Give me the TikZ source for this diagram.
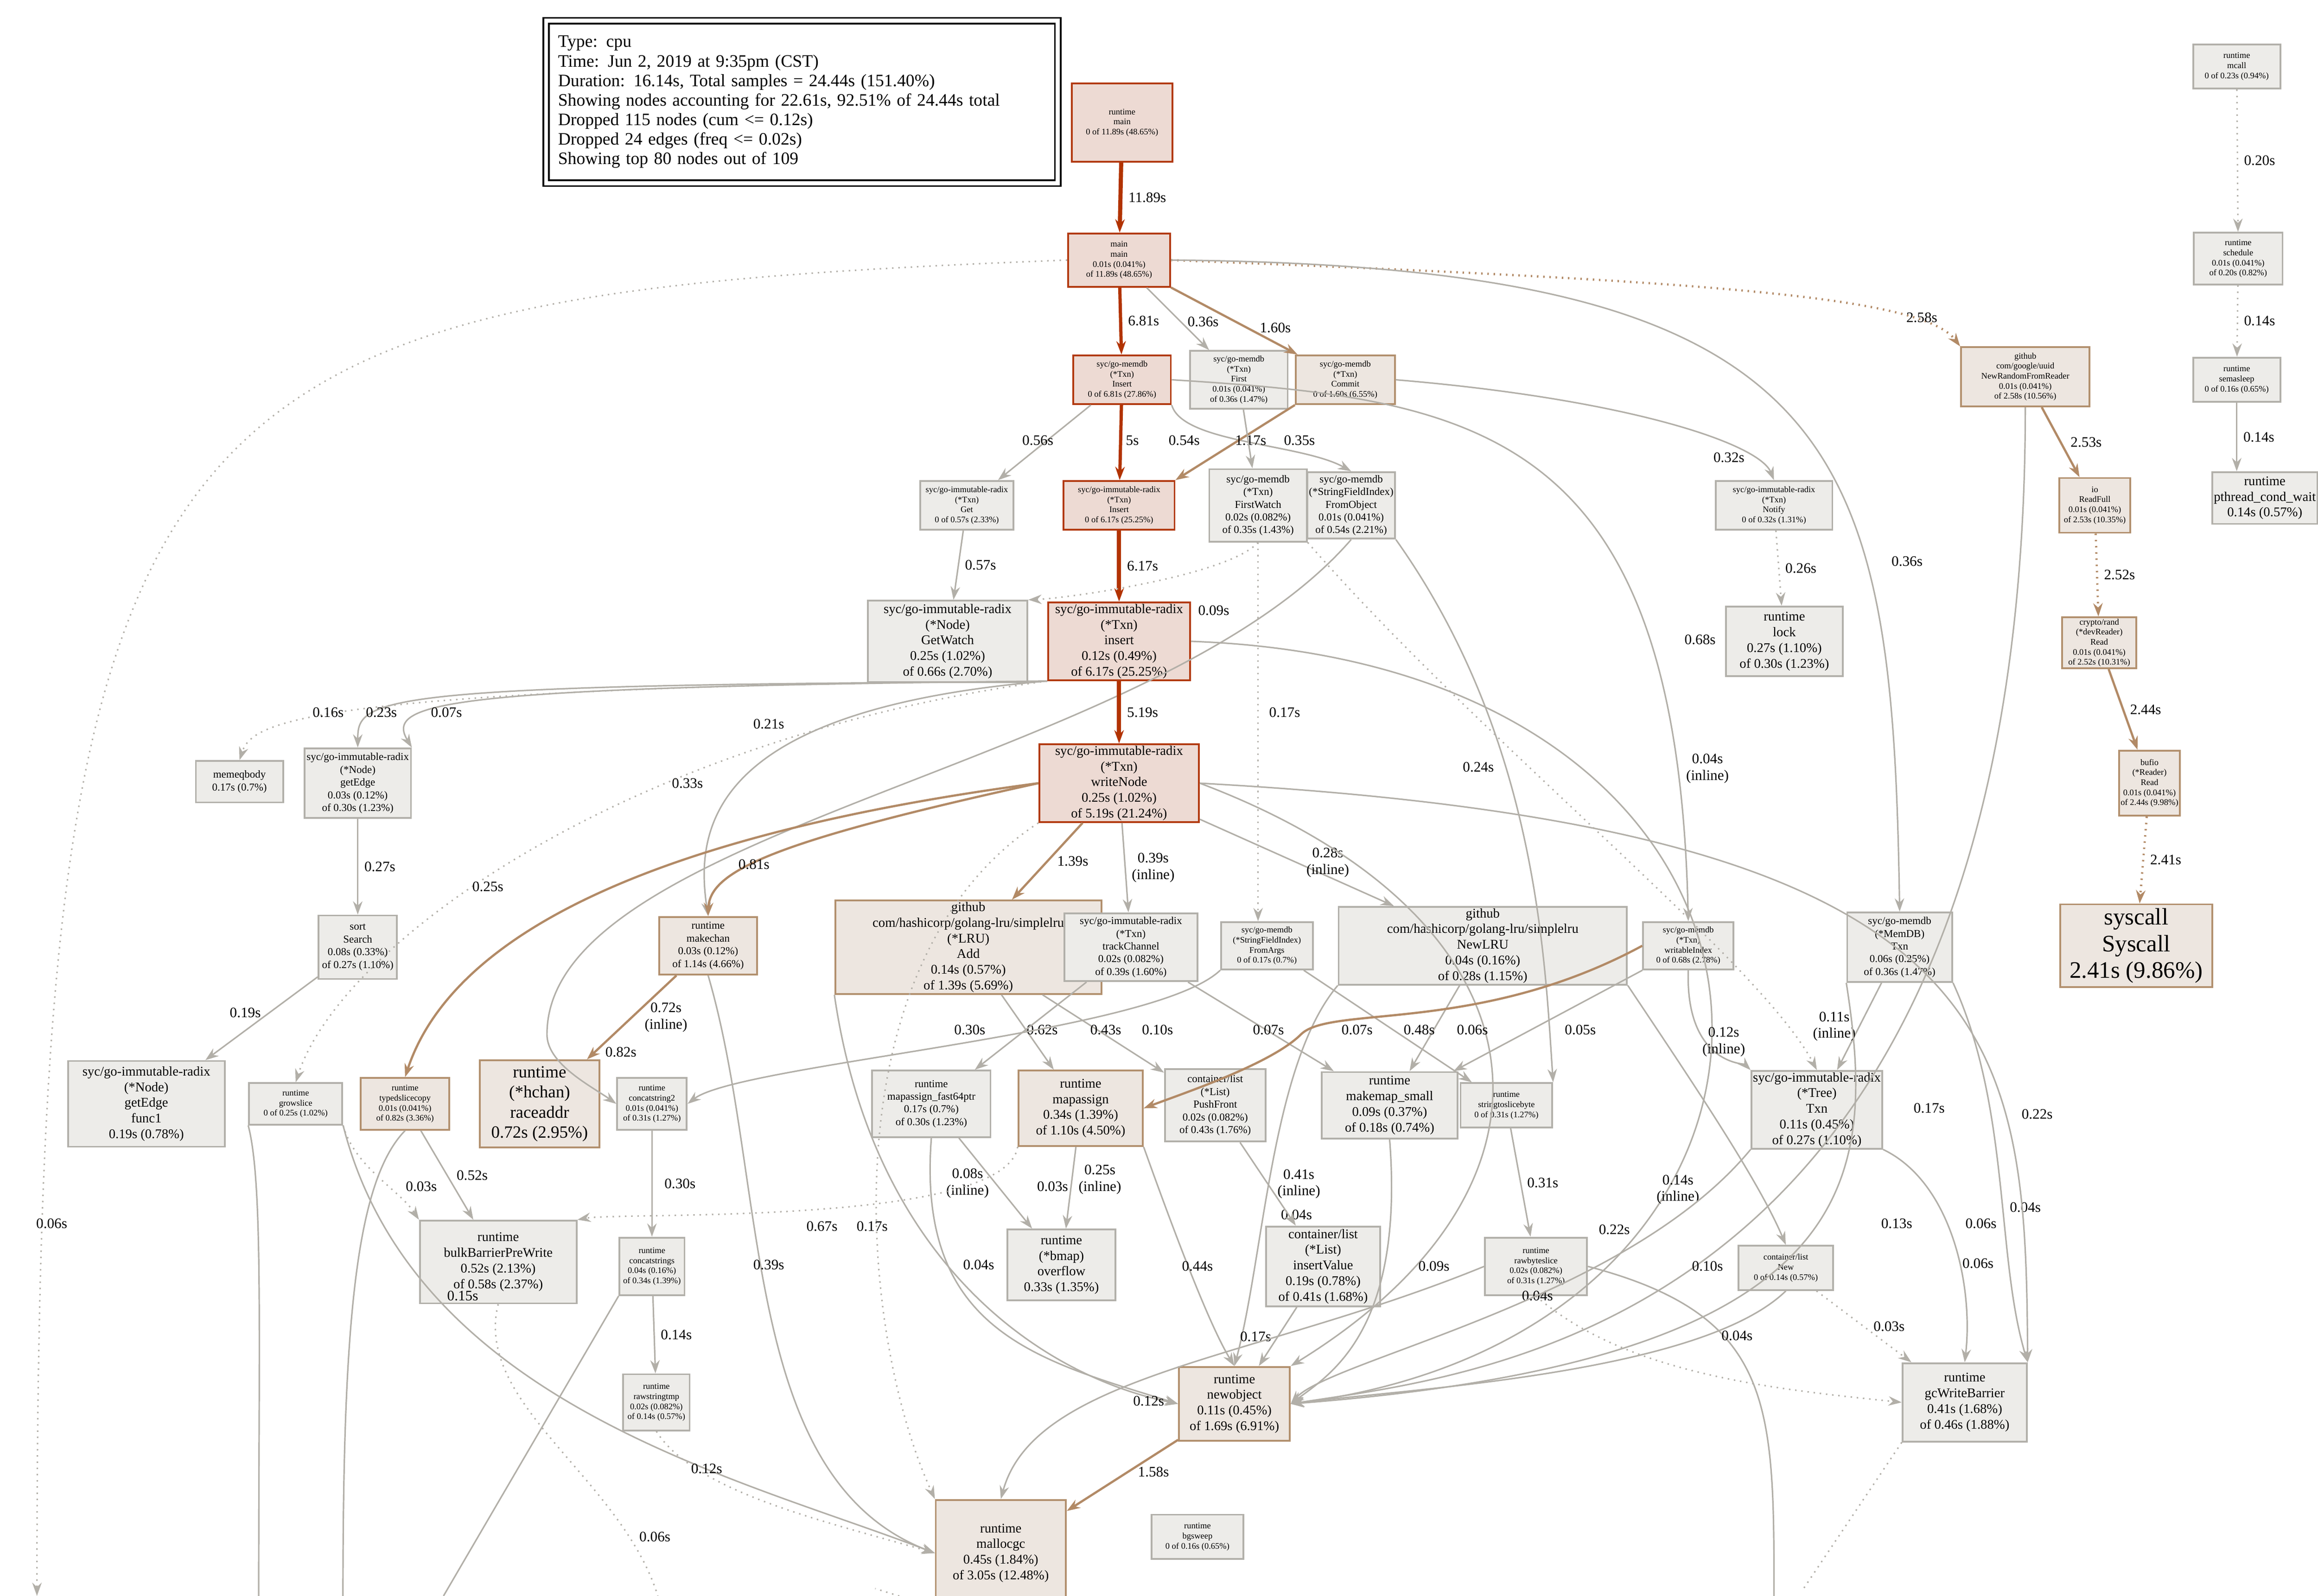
\documentclass[tikz,border=0pt]{standalone}
\usepackage{fontspec}
\setmainfont{Liberation Serif}
\usetikzlibrary{arrows.meta}
\definecolor{ng}{HTML}{EDECE9}\definecolor{bg}{HTML}{B2B0AA}
\definecolor{nb}{HTML}{EDE6E0}\definecolor{bb}{HTML}{B2906E}
\definecolor{nr}{HTML}{EDDAD3}\definecolor{br}{HTML}{B23A10}
\definecolor{eg}{HTML}{B2AFA8}\definecolor{ebr}{HTML}{B28A66}\definecolor{ered}{HTML}{B23300}
\begin{document}
\begin{tikzpicture}[x=0.5pt,y=-0.5pt,
 nd/.style={draw, rectangle, align=center, inner sep=0.5pt, line width=0.6pt},
 g/.style={nd, fill=ng, draw=bg}, b/.style={nd, fill=nb, draw=bb}, r/.style={nd, fill=nr, draw=br},
 sz/.style 2 args={minimum width=#1*0.5pt, minimum height=#2*0.5pt},
 f1/.style={font=\fontsize{2.9}{3.4}\selectfont},
 f2/.style={font=\fontsize{3.6}{4.3}\selectfont},
 f3/.style={font=\fontsize{4.5}{5.3}\selectfont},
 f4/.style={font=\fontsize{5.8}{6.8}\selectfont},
 f5/.style={font=\fontsize{8}{9}\selectfont},
 e/.style={-{Stealth[length=4.5pt,width=3.2pt]}, line width=0.5pt, draw=eg},
 eb/.style={e, draw=ebr, line width=0.75pt},
 er/.style={e, draw=ered, line width=1.4pt},
 d/.style={dash pattern=on 0.5pt off 1.6pt},
 lbl/.style={font=\fontsize{4.9}{5.6}\selectfont, align=center, inner sep=0}]
\useasboundingbox (0,0) rectangle (1568,1080);
\clip (0,0) rectangle (1568,1080);
% legend
\node[draw, double, double distance=1.3pt, line width=0.6pt, sz={345}{110}, align=left, inner sep=4pt, font=\fontsize{5.9}{6.6}\selectfont, text width=165pt] (legend) at (542.5,69) {Type: cpu\\Time: Jun 2, 2019 at 9:35pm (CST)\\Duration: 16.14s, Total samples = 24.44s (151.40\%)\\Showing nodes accounting for 22.61s, 92.51\% of 24.44s total\\Dropped 115 nodes (cum <= 0.12s)\\Dropped 24 edges (freq <= 0.02s)\\Showing top 80 nodes out of 109};
% nodes
\node[r,f1,sz={68}{53}] (rtmain) at (759,83) {runtime\\main\\0 of 11.89s (48.65\%)};
\node[r,f1,sz={69}{36}] (mainmain) at (757,176) {main\\main\\0.01s (0.041\%)\\of 11.89s (48.65\%)};
\node[r,f1,sz={66}{33}] (Insert) at (759,257) {syc/go-memdb\\(*Txn)\\Insert\\0 of 6.81s (27.86\%)};
\node[g,f1,sz={66}{39}] (First) at (838,257) {syc/go-memdb\\(*Txn)\\First\\0.01s (0.041\%)\\of 0.36s (1.47\%)};
\node[b,f1,sz={67}{33}] (Commit) at (910,257) {syc/go-memdb\\(*Txn)\\Commit\\0 of 1.60s (6.55\%)};
\node[b,f1,sz={87}{40}] (NewRand) at (1370,255) {github\\com/google/uuid\\NewRandomFromReader\\0.01s (0.041\%)\\of 2.58s (10.56\%)};
\node[g,f1,sz={59}{30}] (mcall) at (1513,45) {runtime\\mcall\\0 of 0.23s (0.94\%)};
\node[g,f1,sz={60}{35}] (schedule) at (1514,175) {runtime\\schedule\\0.01s (0.041\%)\\of 0.20s (0.82\%)};
\node[g,f1,sz={59}{30}] (semasleep) at (1513,257) {runtime\\semasleep\\0 of 0.16s (0.65\%)};
\node[g,f3,sz={65}{35}] (pthread) at (1532,337) {runtime\\pthread\_cond\_wait\\0.14s (0.57\%)};
\node[g,f1,sz={63}{33}] (GetTxn) at (654,342) {syc/go-immutable-radix\\(*Txn)\\Get\\0 of 0.57s (2.33\%)};
\node[r,f1,sz={75}{33}] (InsR) at (757,342) {syc/go-immutable-radix\\(*Txn)\\Insert\\0 of 6.17s (25.25\%)};
\node[g,f2,sz={66}{49}] (FirstWatch) at (851,342) {syc/go-memdb\\(*Txn)\\FirstWatch\\0.02s (0.082\%)\\of 0.35s (1.43\%)};
\node[g,f2,sz={59}{45}] (FromObj) at (914,342) {syc/go-memdb\\(*StringFieldIndex)\\FromObject\\0.01s (0.041\%)\\of 0.54s (2.21\%)};
\node[g,f1,sz={79}{33}] (Notify) at (1200,342) {syc/go-immutable-radix\\(*Txn)\\Notify\\0 of 0.32s (1.31\%)};
\node[b,f1,sz={48}{37}] (ReadFull) at (1417,342) {io\\ReadFull\\0.01s (0.041\%)\\of 2.53s (10.35\%)};
\node[g,f3,sz={108}{55}] (GetWatch) at (641,434) {syc/go-immutable-radix\\(*Node)\\GetWatch\\0.25s (1.02\%)\\of 0.66s (2.70\%)};
\node[r,f3,sz={96}{52}] (insert) at (757,434) {syc/go-immutable-radix\\(*Txn)\\insert\\0.12s (0.49\%)\\of 6.17s (25.25\%)};
\node[g,f3,sz={79}{47}] (lock) at (1207,434) {runtime\\lock\\0.27s (1.10\%)\\of 0.30s (1.23\%)};
\node[b,f1,sz={50}{34}] (devRead) at (1420,435) {crypto/rand\\(*devReader)\\Read\\0.01s (0.041\%)\\of 2.52s (10.31\%)};
\node[g,f2,sz={59}{28}] (memeq) at (162,529) {memeqbody\\0.17s (0.7\%)};
\node[g,f2,sz={72}{47}] (getEdge) at (242,530) {syc/go-immutable-radix\\(*Node)\\getEdge\\0.03s (0.12\%)\\of 0.30s (1.23\%)};
\node[r,f3,sz={108}{52}] (writeNode) at (757,530) {syc/go-immutable-radix\\(*Txn)\\writeNode\\0.25s (1.02\%)\\of 5.19s (21.24\%)};
\node[b,f1,sz={39}{44}] (bufio) at (1454,530) {bufio\\(*Reader)\\Read\\0.01s (0.041\%)\\of 2.44s (9.98\%)};
\node[g,f2,sz={53}{43}] (sort) at (242,641) {sort\\Search\\0.08s (0.33\%)\\of 0.27s (1.10\%)};
\node[b,f2,sz={66}{39}] (makechan) at (479,640) {runtime\\makechan\\0.03s (0.12\%)\\of 1.14s (4.66\%)};
\node[b,f3,sz={180}{59}] (Add) at (655,641) {github\\com/hashicorp/golang-lru/simplelru\\(*LRU)\\Add\\0.14s (0.57\%)\\of 1.39s (5.69\%)};
\node[g,f2,sz={90}{46}] (track) at (765,641) {syc/go-immutable-radix\\(*Txn)\\trackChannel\\0.02s (0.082\%)\\of 0.39s (1.60\%)};
\node[g,f1,sz={62}{32}] (FromArgs) at (857,640) {syc/go-memdb\\(*StringFieldIndex)\\FromArgs\\0 of 0.17s (0.7\%)};
\node[g,f3,sz={195}{46}] (NewLRU) at (1003,640) {github\\com/hashicorp/golang-lru/simplelru\\NewLRU\\0.04s (0.16\%)\\of 0.28s (1.15\%)};
\node[g,f1,sz={61}{32}] (writIdx) at (1142,640) {syc/go-memdb\\(*Txn)\\writableIndex\\0 of 0.68s (2.78\%)};
\node[g,f2,sz={71}{47}] (MemTxn) at (1285,641) {syc/go-memdb\\(*MemDB)\\Txn\\0.06s (0.25\%)\\of 0.36s (1.47\%)};
\node[b,f5,sz={103}{56}] (syscall) at (1445,640) {syscall\\Syscall\\2.41s (9.86\%)};
\node[g,f3,sz={106}{58}] (func1) at (99,747) {syc/go-immutable-radix\\(*Node)\\getEdge\\func1\\0.19s (0.78\%)};
\node[g,f1,sz={63}{28}] (grow) at (200,747) {runtime\\growslice\\0 of 0.25s (1.02\%)};
\node[b,f1,sz={60}{35}] (typed) at (274,747) {runtime\\typedslicecopy\\0.01s (0.041\%)\\of 0.82s (3.36\%)};
\node[b,f4,sz={81}{59}] (race) at (365,747) {runtime\\(*hchan)\\raceaddr\\0.72s (2.95\%)};
\node[g,f1,sz={47}{35}] (cat2) at (441,747) {runtime\\concatstring2\\0.01s (0.041\%)\\of 0.31s (1.27\%)};
\node[g,f2,sz={80}{45}] (mapf64) at (630,747) {runtime\\mapassign\_fast64ptr\\0.17s (0.7\%)\\of 0.30s (1.23\%)};
\node[b,f3,sz={84}{51}] (mapassign) at (731,750) {runtime\\mapassign\\0.34s (1.39\%)\\of 1.10s (4.50\%)};
\node[g,f2,sz={68}{49}] (PushFront) at (822,748) {container/list\\(*List)\\PushFront\\0.02s (0.082\%)\\of 0.43s (1.76\%)};
\node[g,f3,sz={92}{45}] (makemap) at (940,748) {runtime\\makemap\_small\\0.09s (0.37\%)\\of 0.18s (0.74\%)};
\node[g,f1,sz={62}{30}] (s2b) at (1019,748) {runtime\\stringtoslicebyte\\0 of 0.31s (1.27\%)};
\node[g,f3,sz={84}{51}] (radTxn) at (1229,751) {syc/go-immutable-radix\\(*Tree)\\Txn\\0.11s (0.45\%)\\of 0.27s (1.10\%)};
\node[g,f3,sz={106}{56}] (bulk) at (337,854) {runtime\\bulkBarrierPreWrite\\0.52s (2.13\%)\\of 0.58s (2.37\%)};
\node[g,f1,sz={44}{39}] (cats) at (441,857) {runtime\\concatstrings\\0.04s (0.16\%)\\of 0.34s (1.39\%)};
\node[g,f3,sz={73}{48}] (bmap) at (718,856) {runtime\\(*bmap)\\overflow\\0.33s (1.35\%)};
\node[g,f3,sz={77}{54}] (insVal) at (895,857) {container/list\\(*List)\\insertValue\\0.19s (0.78\%)\\of 0.41s (1.68\%)};
\node[g,f1,sz={69}{39}] (rawb) at (1039,857) {runtime\\rawbyteslice\\0.02s (0.082\%)\\of 0.31s (1.27\%)};
\node[g,f1,sz={64}{30}] (listNew) at (1208,858) {container/list\\New\\0 of 0.14s (0.57\%)};
\node[g,f1,sz={45}{38}] (rawst) at (444,949) {runtime\\rawstringtmp\\0.02s (0.082\%)\\of 0.14s (0.57\%)};
\node[b,f3,sz={75}{50}] (newobj) at (835,950) {runtime\\newobject\\0.11s (0.45\%)\\of 1.69s (6.91\%)};
\node[g,f3,sz={84}{53}] (gcwb) at (1329,949) {runtime\\gcWriteBarrier\\0.41s (1.68\%)\\of 0.46s (1.88\%)};
\node[b,f3,sz={88}{72}] (malloc) at (677,1051) {runtime\\mallocgc\\0.45s (1.84\%)\\of 3.05s (12.48\%)};
\node[g,f1,sz={62}{30}] (bgsweep) at (810,1040) {runtime\\bgsweep\\0 of 0.16s (0.65\%)};
% free ends
\coordinate (c1) at (25,1080); \coordinate (c2) at (175,1080); \coordinate (c3) at (232,1080);
\coordinate (c4) at (300,1080); \coordinate (c5) at (1200,1080); \coordinate (c6) at (445,1080);
\coordinate (c7) at (1220,1075); \coordinate (c8) at (592,1075);
% edges top
\draw[er] (rtmain) -- (mainmain) node[lbl,pos=0.5,right=2pt] {11.89s};
\draw[er,line width=1.1pt] (mainmain) -- (Insert) node[lbl,pos=0.5,right=2pt] {6.81s};
\draw[e] (mainmain) -- (First) node[lbl,pos=0.55,right=2pt] {0.36s};
\draw[eb] (mainmain) -- (Commit) node[lbl,pos=0.6,right=4pt] {1.60s};
\draw[eb,d] (mainmain.east) .. controls (1150,190) and (1300,200) .. (NewRand.north west);
\node[lbl] at (1300,215) {2.58s};
\draw[e] (mainmain.east) .. controls (1250,180) and (1280,300) .. (MemTxn.north);
\node[lbl] at (1290,380) {0.36s};
\draw[e,d] (mainmain.west) .. controls (100,200) and (25,250) .. (c1);
\node[lbl] at (35,828) {0.06s};
\draw[e,d] (mcall) -- (schedule) node[lbl,pos=0.5,right=2pt] {0.20s};
\draw[e,d] (schedule) -- (semasleep) node[lbl,pos=0.5,right=2pt] {0.14s};
\draw[e] (semasleep) -- (semasleep|-pthread.north) node[lbl,pos=0.5,right=2pt] {0.14s};
\draw[e] (Insert) -- (GetTxn);
\node[lbl] at (702,298) {0.56s};
\draw[er,line width=1.1pt] (Insert) -- (InsR);
\node[lbl] at (766,298) {5s};
\draw[e] (Insert.south east) .. controls (800,300) and (880,300) .. (FromObj.north);
\node[lbl] at (801,298) {0.54s};
\draw[e] (Insert.east) .. controls (1000,270) and (1135,290) .. (writIdx.north);
\node[lbl] at (1150,433) {0.68s};
\draw[eb] (Commit.south west) -- (InsR.north east);
\node[lbl] at (846,298) {1.17s};
\draw[e] (First) -- (FirstWatch);
\node[lbl] at (879,298) {0.35s};
\draw[e] (Commit.east) .. controls (1100,270) and (1190,300) .. (Notify.north) node[lbl,pos=0.8,left=2pt] {0.32s};
\draw[eb] (NewRand) -- (ReadFull) node[lbl,pos=0.5,right=3pt] {2.53s};
\draw[e] (NewRand.south) .. controls (1370,900) and (1000,930) .. (newobj.east);
\node[lbl] at (1370,817) {0.04s};
\draw[e,d] (Notify) -- (lock) node[lbl,pos=0.5,right=2pt] {0.26s};
\draw[eb,d] (ReadFull) -- (devRead) node[lbl,pos=0.5,right=2pt] {2.52s};
\draw[eb] (devRead) -- (bufio) node[lbl,pos=0.5,right=2pt] {2.44s};
\draw[eb,d] (bufio) -- (syscall) node[lbl,pos=0.5,right=2pt] {2.41s};
\draw[e] (GetTxn) -- (GetWatch) node[lbl,pos=0.5,right=2pt] {0.57s};
\draw[er] (InsR) -- (insert) node[lbl,pos=0.5,right=2pt] {6.17s};
\draw[e,d] (FirstWatch.south) .. controls (830,390) and (720,405) .. (GetWatch.north east);
\node[lbl] at (821,413) {0.09s};
\draw[e,d] (FirstWatch) -- (FirstWatch|-FromArgs.north);
\node[lbl] at (869,482) {0.17s};
\draw[e] (FromObj.south) .. controls (780,520) and (370,560) .. (370,700) .. controls (370,720) and (400,735) .. (cat2.west);
\node[lbl] at (520,490) {0.21s};
\draw[e] (FromObj.south east) .. controls (1040,500) and (1045,650) .. (s2b.north east);
\node[lbl] at (1000,519) {0.24s};
\draw[e,d] (FirstWatch.south east) .. controls (1000,500) and (1190,650) .. (radTxn.north);
\node[lbl] at (1155,520) {0.04s\\(inline)};
\draw[e,d] (GetWatch.south west) .. controls (200,470) and (170,490) .. (memeq.north);
\node[lbl] at (222,482) {0.16s};
\draw[e] (GetWatch.south west) .. controls (250,465) and (242,475) .. (getEdge.north);
\node[lbl] at (258,482) {0.23s};
\draw[e] (insert.south west) .. controls (300,465) and (260,475) .. (getEdge.north east);
\node[lbl] at (302,482) {0.07s};
\draw[er] (insert) -- (writeNode) node[lbl,pos=0.5,right=2pt] {5.19s};
\draw[e,d] (insert.south west) .. controls (420,500) and (230,640) .. (grow.north);
\node[lbl] at (330,600) {0.25s};
\draw[e] (insert.south west) .. controls (480,480) and (470,560) .. (makechan.north);
\node[lbl] at (465,530) {0.33s};
\draw[e] (insert.east) .. controls (1260,450) and (1265,900) .. (newobj.east);
\node[lbl] at (1305,750) {0.17s};
\draw[e] (getEdge) -- (sort) node[lbl,pos=0.5,right=2pt] {0.27s};
\draw[e] (sort) -- (func1) node[lbl,pos=0.5,above left=0pt] {0.19s};
% writeNode out
\draw[eb] (writeNode.west) .. controls (520,570) and (480,590) .. (makechan.north);
\node[lbl] at (510,585) {0.81s};
\draw[eb] (writeNode.west) .. controls (400,570) and (300,650) .. (typed.north);
\node[lbl] at (420,712) {0.82s};
\draw[eb] (writeNode) -- (Add) node[lbl,pos=0.5,right=3pt] {1.39s};
\draw[e] (writeNode) -- (track) node[lbl,pos=0.5,right=2pt] {0.39s\\(inline)};
\draw[e] (writeNode) -- (NewLRU) node[lbl,pos=0.5,right=3pt] {0.28s\\(inline)};
\draw[e,d] (writeNode.south west) .. controls (560,650) and (580,900) .. (malloc.north west);
\node[lbl] at (556,830) {0.67s};
\draw[e] (writeNode.east) .. controls (1050,620) and (1075,800) .. (newobj.north east);
\node[lbl] at (1092,832) {0.22s};
\draw[e] (writeNode.east) .. controls (1360,560) and (1370,700) .. (gcwb.north east);
\node[lbl] at (1378,754) {0.22s};
\draw[eb] (makechan) -- (race) node[lbl,pos=0.5,right=4pt] {0.72s\\(inline)};
\draw[e] (makechan.south) .. controls (520,800) and (500,1000) .. (malloc.west);
\node[lbl] at (520,856) {0.39s};
\draw[e] (Add) -- (mapassign);
\node[lbl] at (705,697) {0.62s};
\draw[e] (Add) -- (PushFront);
\node[lbl] at (748,697) {0.43s};
\draw[e] (Add.south west) .. controls (590,850) and (700,930) .. (newobj.west);
\node[lbl] at (590,830) {0.17s};
\draw[e] (track) -- (mapf64);
\node[lbl] at (656,697) {0.30s};
\draw[e] (track) -- (makemap);
\node[lbl] at (858,697) {0.07s};
\draw[e] (FromArgs.south west) .. controls (780,700) and (500,720) .. (cat2.east);
\node[lbl] at (783,697) {0.10s};
\draw[e] (FromArgs) -- (s2b);
\node[lbl] at (918,697) {0.07s};
\draw[e] (NewLRU) -- (makemap);
\node[lbl] at (996,697) {0.06s};
\draw[e] (NewLRU.south west) .. controls (860,720) and (855,850) .. (newobj.north);
\node[lbl] at (877,822) {0.04s};
\draw[e] (NewLRU.south east) .. controls (1150,740) and (1190,800) .. (listNew.north);
\node[lbl] at (1135,805) {0.14s\\(inline)};
\draw[eb] (writIdx.west) .. controls (1000,700) and (900,680) .. (880,700) .. controls (860,720) and (800,740) .. (mapassign.east);
\node[lbl] at (960,697) {0.48s};
\draw[e] (writIdx) -- (makemap);
\node[lbl] at (1069,697) {0.05s};
\draw[e] (writIdx.south) .. controls (1140,720) and (1180,720) .. (radTxn.north west);
\node[lbl] at (1166,705) {0.12s\\(inline)};
\draw[e] (MemTxn) -- (radTxn) node[lbl,pos=0.5,left=1pt] {0.11s\\(inline)};
\draw[e] (MemTxn.south west) .. controls (1270,800) and (1260,920) .. (newobj.east);
\node[lbl] at (1283,828) {0.13s};
\draw[e] (MemTxn.south east) .. controls (1360,750) and (1350,850) .. (gcwb.north east);
\node[lbl] at (1340,828) {0.06s};
% lower
\draw[e] (grow.south east) .. controls (280,950) and (500,1000) .. (malloc.west);
\node[lbl] at (313,877) {0.15s};
\draw[e,d] (grow.south east) .. controls (240,790) and (270,805) .. (bulk.north west);
\node[lbl] at (285,803) {0.03s};
\draw[e] (typed) -- (bulk) node[lbl,pos=0.5,right=3pt] {0.52s};
\draw[e,-] (grow.south west) .. controls (178,800) and (175,900) .. (c2);
\draw[e,-] (typed.south) .. controls (240,800) and (232,900) .. (c3);
\draw[e] (cat2) -- (cats) node[lbl,pos=0.5,right=4pt] {0.30s};
\draw[e] (cats) -- (rawst) node[lbl,pos=0.5,right=2pt] {0.14s};
\draw[e,-] (cats.south west) -- (c4);
\draw[e,d] (rawst.south) .. controls (470,1010) and (560,1030) .. (malloc.west);
\node[lbl] at (478,994) {0.12s};
\draw[e,-,d] (bulk.south) .. controls (320,950) and (420,1000) .. (c6);
\node[lbl] at (443,1040) {0.06s};
\draw[e] (mapf64) -- (bmap) node[lbl,pos=0.5,left=2pt] {0.08s\\(inline)};
\draw[e] (mapf64.south) .. controls (620,900) and (700,920) .. (newobj.west);
\node[lbl] at (662,856) {0.04s};
\draw[e] (mapassign) -- (bmap) node[lbl,pos=0.4,right=2pt] {0.25s\\(inline)};
\draw[e] (mapassign.south east) .. controls (800,850) and (820,900) .. (newobj.north);
\node[lbl] at (810,857) {0.44s};
\draw[e,d] (mapassign.south west) .. controls (680,830) and (420,820) .. (bulk.north east);
\node[lbl] at (712,803) {0.03s};
\draw[e] (PushFront) -- (insVal) node[lbl,pos=0.5,right=3pt] {0.41s\\(inline)};
\draw[e] (insVal) -- (newobj) node[lbl,pos=0.5,left=2pt] {0.17s};
\draw[e] (makemap.south) .. controls (950,900) and (900,930) .. (newobj.east);
\node[lbl] at (970,857) {0.09s};
\draw[e] (s2b) -- (rawb) node[lbl,pos=0.5,right=2pt] {0.31s};
\draw[e] (rawb.west) .. controls (850,920) and (700,930) .. (malloc.north);
\node[lbl] at (777,948) {0.12s};
\draw[e,d] (rawb.south) .. controls (1100,930) and (1200,940) .. (gcwb.west);
\node[lbl] at (1040,877) {0.04s};
\draw[e,-] (rawb.east) .. controls (1200,890) and (1200,950) .. (c5);
\draw[e] (radTxn.south west) .. controls (1100,880) and (900,920) .. (newobj.east);
\node[lbl] at (1155,857) {0.10s};
\draw[e] (radTxn.south east) .. controls (1320,800) and (1335,870) .. (gcwb.north);
\node[lbl] at (1338,855) {0.06s};
\draw[e,d] (listNew) -- (gcwb) node[lbl,pos=0.5,right=3pt] {0.03s};
\draw[e] (listNew.south) .. controls (1150,930) and (950,940) .. (newobj.east);
\node[lbl] at (1175,904) {0.04s};
\draw[eb] (newobj) -- (malloc) node[lbl,pos=0.45,right=3pt] {1.58s};
\draw[e,-,d] (gcwb.south west) -- (c7);
\draw[e,-,d] (malloc.south west) -- (c8);
\end{tikzpicture}
\end{document}
